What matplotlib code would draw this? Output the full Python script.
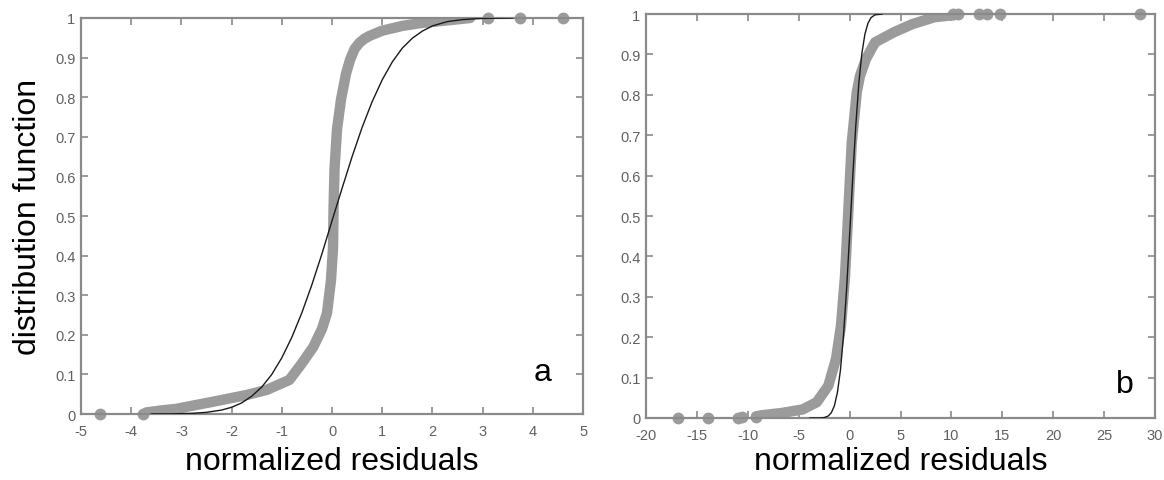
import matplotlib
matplotlib.use('Agg')
import matplotlib.pyplot as plt

plt.rcParams['font.family'] = ['Liberation Sans', 'DejaVu Sans']
plt.rcParams['axes.unicode_minus'] = False

emp_a_x = [-3.7, -3.4, -3.1, -2.9, -2.37, -1.7, -1.3, -0.85, -0.6, -0.37, -0.2, -0.1,
           -0.02, 0.02, 0.03, 0.05, 0.1, 0.18, 0.28, 0.36, 0.45, 0.55, 0.65, 0.75, 1.0, 1.4,
           1.76, 2.3, 2.75]
emp_a_y = [0.004, 0.009, 0.013, 0.018, 0.031, 0.048, 0.061, 0.086, 0.128, 0.17, 0.215, 0.255,
           0.339, 0.42, 0.516, 0.62, 0.72, 0.795, 0.86, 0.895, 0.922, 0.938, 0.948, 0.955, 0.968,
           0.98, 0.987, 0.994, 1.0]
dots_a_x = [-4.62, -3.76, 3.1, 3.75, 4.6]
dots_a_y = [0.0, 0.0, 1.0, 1.0, 1.0]

# panel a: fitted normal distribution (black line), read point by point
line_a_x = [-3.6, -3.2, -2.8, -2.5, -2.2, -2.0, -1.8, -1.6, -1.4, -1.2, -1.0, -0.8, -0.6,
            -0.4, -0.2, 0.0, 0.2, 0.4, 0.6, 0.8, 1.0, 1.2, 1.4, 1.6, 1.8, 2.0, 2.3, 2.6, 3.0, 3.6]
line_a_y = [0.0001, 0.0004, 0.0016, 0.0042, 0.010, 0.017, 0.028, 0.045, 0.068, 0.100, 0.142,
            0.194, 0.256, 0.327, 0.405, 0.488, 0.570, 0.650, 0.724, 0.789, 0.844, 0.889, 0.924,
            0.949, 0.967, 0.980, 0.991, 0.996, 0.999, 1.0]

# panel b
emp_b_x = [-9.2, -8.58, -6.79, -4.63, -3.23, -2.09, -1.34, -0.85, -0.45, -0.12, 0.21, 0.7,
           1.02, 1.61, 2.5, 4.36, 6.16, 8.32, 10.48]
emp_b_y = [0.004, 0.007, 0.012, 0.021, 0.039, 0.08, 0.146, 0.228, 0.352, 0.517, 0.682, 0.806,
           0.847, 0.889, 0.93, 0.955, 0.975, 0.992, 0.998]
dots_b_x = [-16.87, -13.92, -10.92, -10.57, -9.23, 10.12, 10.66, 12.71, 13.54, 14.73, 28.48]
dots_b_y = [0.0, 0.0, 0.0, 0.002, 0.003, 1.0, 1.0, 1.0, 1.0, 1.0, 1.0]

line_b_x = [-3.9, -3.0, -2.5, -2.1, -1.8, -1.5, -1.2, -0.9, -0.6, -0.3, 0.0, 0.3, 0.6, 0.9,
            1.2, 1.5, 1.8, 2.1, 2.5, 3.2]
line_b_y = [0.0, 0.0001, 0.001, 0.005, 0.013, 0.030, 0.063, 0.119, 0.205, 0.319, 0.453, 0.593,
            0.722, 0.827, 0.902, 0.950, 0.977, 0.991, 0.998, 1.0]

gray = '#9b9b9b'
axcol = '#8a8a8a'
tickcol = '#606060'

fig = plt.figure(figsize=(11.64, 4.81), dpi=100)
ax1 = fig.add_axes([0.0696, 0.1372, 0.4313, 0.8233])
ax2 = fig.add_axes([0.555, 0.1289, 0.4373, 0.8399])


def style(ax, xlim, xticks):
    ax.set_xlim(*xlim)
    ax.set_ylim(0, 1)
    ax.set_xticks(xticks)
    ax.set_yticks([i / 10 for i in range(11)])
    ax.set_yticklabels(['0'] + ['0.%d' % i for i in range(1, 10)] + ['1'])
    ax.tick_params(direction='in', top=True, right=True, length=5, width=1.2,
                   color=axcol, labelcolor=tickcol, labelsize=10.5)
    ax.tick_params(axis='x', pad=7)
    ax.tick_params(axis='y', pad=4)
    for s in ax.spines.values():
        s.set_color(axcol)
        s.set_linewidth(1.6)


ax1.plot(emp_a_x, emp_a_y, color=gray, lw=7.5, solid_capstyle='round', solid_joinstyle='round', zorder=2)
ax1.plot(dots_a_x, dots_a_y, 'o', color=gray, ms=7.5, clip_on=False, zorder=2)
ax1.plot(line_a_x, line_a_y, color='#1a1a1a', lw=1, zorder=3)
style(ax1, (-5, 5), range(-5, 6))
ax1.text(4.2, 0.105, 'a', fontsize=23, ha='center', va='center')

ax2.plot(emp_b_x, emp_b_y, color=gray, lw=7.5, solid_capstyle='round', solid_joinstyle='round', zorder=2)
ax2.plot(dots_b_x, dots_b_y, 'o', color=gray, ms=7.5, clip_on=False, zorder=2)
ax2.plot(line_b_x, line_b_y, color='#1a1a1a', lw=1, zorder=3)
style(ax2, (-20, 30), range(-20, 31, 5))
ax2.text(27.0, 0.084, 'b', fontsize=23, ha='center', va='center')

fig.text(0.0696 + 0.4313 / 2, 0.022, 'normalized residuals', fontsize=23, ha='center', va='baseline')
fig.text(0.555 + 0.4373 / 2, 0.022, 'normalized residuals', fontsize=23, ha='center', va='baseline')
fig.text(0.024, 0.1372 + 0.8233 / 2, 'distribution function', fontsize=23, rotation=90,
         ha='center', va='center')

fig.savefig('out.png', dpi=100)
